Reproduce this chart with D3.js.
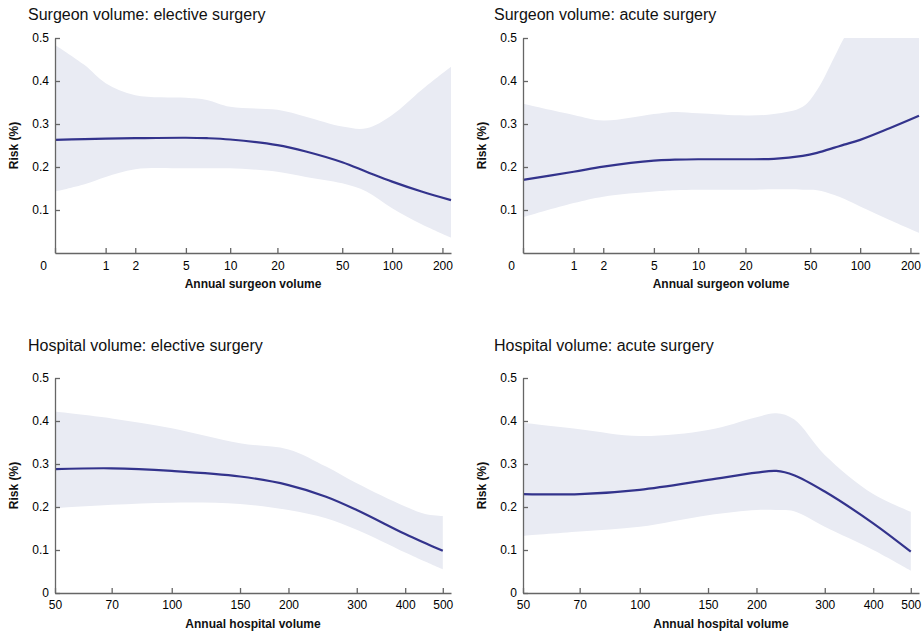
<!DOCTYPE html>
<html>
<head>
<meta charset="utf-8">
<script src="https://cdn.jsdelivr.net/npm/d3@7"></script>
<style>
  body { margin: 0; background: #fff; }
  svg { font-family: "Liberation Sans", Arial, Helvetica, sans-serif; }
  .title { font-size: 16px; fill: #111; }
  .axis-title { font-size: 12px; font-weight: bold; fill: #111; }
  .axis text { font-size: 12px; fill: #000; }
  .axis path, .axis line { stroke: #666; stroke-width: 1.3; }
  .band { fill: #e9ebf3; }
  .fit { fill: none; stroke: #33338c; stroke-width: 2.2; }
</style>
</head>
<body>
<div id="chart"></div>
<script>
// ---- data ----
// surgeon volume, elective surgery
var seVolume = [0, 0.5, 1, 2, 5, 7, 10, 20, 30, 50, 70, 100, 150, 225];
var seRisk   = [0.263, 0.265, 0.266, 0.267, 0.268, 0.267, 0.264, 0.251, 0.236, 0.211, 0.189, 0.166, 0.143, 0.123];
var seUpper  = [0.484, 0.437, 0.395, 0.367, 0.361, 0.356, 0.340, 0.333, 0.317, 0.294, 0.290, 0.321, 0.379, 0.433];
var seLower  = [0.143, 0.160, 0.177, 0.195, 0.197, 0.197, 0.197, 0.189, 0.177, 0.162, 0.143, 0.104, 0.067, 0.036];

// surgeon volume, acute surgery
var saVolume = [0, 1, 2, 5, 7, 10, 20, 30, 45, 55, 70, 80, 100, 150, 225];
var saRisk   = [0.170, 0.189, 0.201, 0.215, 0.217, 0.218, 0.218, 0.219, 0.226, 0.233, 0.245, 0.252, 0.263, 0.290, 0.319];
var saUpper  = [0.347, 0.321, 0.308, 0.323, 0.328, 0.325, 0.320, 0.323, 0.340, 0.379, 0.456, 0.500, 0.560, 0.650, 0.750];
var saLower  = [0.083, 0.116, 0.131, 0.143, 0.146, 0.147, 0.147, 0.148, 0.147, 0.146, 0.135, 0.126, 0.108, 0.077, 0.047];

// hospital volume, elective surgery
var heVolume = [50, 70, 100, 150, 200, 250, 300, 400, 450, 500];
var heRisk   = [0.288, 0.290, 0.284, 0.271, 0.251, 0.224, 0.193, 0.137, 0.116, 0.098];
var heUpper  = [0.422, 0.406, 0.383, 0.348, 0.334, 0.294, 0.255, 0.201, 0.184, 0.179];
var heLower  = [0.197, 0.205, 0.210, 0.207, 0.193, 0.174, 0.147, 0.094, 0.073, 0.055];

// hospital volume, acute surgery
var haVolume = [50, 70, 100, 150, 200, 225, 250, 300, 400, 500];
var haRisk   = [0.230, 0.230, 0.240, 0.263, 0.280, 0.284, 0.274, 0.236, 0.162, 0.096];
var haUpper  = [0.396, 0.381, 0.365, 0.379, 0.409, 0.418, 0.404, 0.321, 0.230, 0.189];
var haLower  = [0.133, 0.143, 0.154, 0.181, 0.193, 0.193, 0.190, 0.154, 0.100, 0.052];

var surgeonTicks = [0, 1, 2, 5, 10, 20, 50, 100, 200];
var hospitalTicks = [50, 70, 100, 150, 200, 300, 400, 500];
var riskTicksTop = [0.1, 0.2, 0.3, 0.4, 0.5];
var riskTicksBottom = [0, 0.1, 0.2, 0.3, 0.4, 0.5];

var titles = [
  "Surgeon volume: elective surgery",
  "Surgeon volume: acute surgery",
  "Hospital volume: elective surgery",
  "Hospital volume: acute surgery"
];

// ---- layout ----
var width = 924, height = 634;
var svg = d3.select("#chart").append("svg")
  .attr("width", width)
  .attr("height", height);

function zip(xs, ys) {
  return xs.map(function (x, i) { return [x, ys[i]]; });
}

var panels = [
  { title: titles[0], left: 55, top: 38, bottom: 253, titleX: 28, titleY: 20,
    kind: "surgeon", volume: seVolume, risk: seRisk, upper: seUpper, lower: seLower },
  { title: titles[1], left: 523, top: 38, bottom: 253, titleX: 494, titleY: 20,
    kind: "surgeon", volume: saVolume, risk: saRisk, upper: saUpper, lower: saLower },
  { title: titles[2], left: 55, top: 378, bottom: 593, titleX: 28, titleY: 351,
    kind: "hospital", volume: heVolume, risk: heRisk, upper: heUpper, lower: heLower },
  { title: titles[3], left: 523, top: 378, bottom: 593, titleX: 494, titleY: 351,
    kind: "hospital", volume: haVolume, risk: haRisk, upper: haUpper, lower: haLower }
];

var plotWidth = 396;
var smooth = d3.curveCatmullRom.alpha(0.5);

panels.forEach(function (p, i) {
  var x;
  if (p.kind == "surgeon") {
    // log(volume + 1) axis
    x = d3.scaleSymlog().constant(1).domain([0, 225]).range([p.left, p.left + plotWidth]);
  } else {
    x = d3.scaleLog().domain([50, 525]).range([p.left, p.left + plotWidth]);
  }
  var y = d3.scaleLinear().domain([0, 0.5]).range([p.bottom, p.top]);

  var g = svg.append("g");

  // clip so the band stops at 0.5
  g.append("clipPath").attr("id", "clip" + i)
    .append("rect")
    .attr("x", p.left).attr("y", y(0.5))
    .attr("width", plotWidth).attr("height", y(0) - y(0.5));

  var area = d3.area()
    .x(function (d) { return x(d[0]); })
    .y0(function (d) { return y(d[1]); })
    .y1(function (d) { return y(d[2]); })
    .curve(smooth);

  var bandData = p.volume.map(function (v, j) { return [v, p.lower[j], p.upper[j]]; });
  g.append("path")
    .datum(bandData)
    .attr("class", "band")
    .attr("clip-path", "url(#clip" + i + ")")
    .attr("d", area);

  var line = d3.line()
    .x(function (d) { return x(d[0]); })
    .y(function (d) { return y(d[1]); })
    .curve(smooth);

  g.append("path")
    .datum(zip(p.volume, p.risk))
    .attr("class", "fit")
    .attr("d", line);

  // axes, ticks pointing inward
  var xAxis = d3.axisBottom(x)
    .tickValues(p.kind == "surgeon" ? surgeonTicks : hospitalTicks)
    .tickFormat(d3.format("d"))
    .tickSizeInner(-5).tickSizeOuter(0).tickPadding(8);
  var xg = g.append("g").attr("class", "axis")
    .attr("transform", "translate(0," + p.bottom + ")")
    .call(xAxis);
  xg.selectAll(".tick text").attr("dy", "0.71em");
  if (p.kind == "surgeon") {
    // the zero label sits a little left of the origin
    xg.selectAll(".tick").filter(function (d) { return d === 0; })
      .select("text").attr("dx", -12);
  } else {
    xg.selectAll(".tick text").attr("y", 7);
  }

  var yAxis = d3.axisLeft(y)
    .tickValues(p.kind == "surgeon" ? riskTicksTop : riskTicksBottom)
    .tickFormat(function (d) { return d === 0 ? "0" : d3.format(".1f")(d); })
    .tickSizeInner(-5).tickSizeOuter(0).tickPadding(6);
  g.append("g").attr("class", "axis")
    .attr("transform", "translate(" + p.left + ",0)")
    .call(yAxis);

  // titles
  g.append("text").attr("class", "title")
    .attr("x", p.titleX).attr("y", p.titleY)
    .text(p.title);

  g.append("text").attr("class", "axis-title")
    .attr("text-anchor", "middle")
    .attr("x", p.left + plotWidth / 2)
    .attr("y", p.bottom + 35)
    .text(p.kind == "surgeon" ? "Annual surgeon volume" : "Annual hospital volume");

  g.append("text").attr("class", "axis-title")
    .attr("text-anchor", "middle")
    .attr("transform", "translate(" + (p.left - 37) + "," + ((p.top + p.bottom) / 2) + ") rotate(-90)")
    .text("Risk (%)");
});
</script>
</body>
</html>
